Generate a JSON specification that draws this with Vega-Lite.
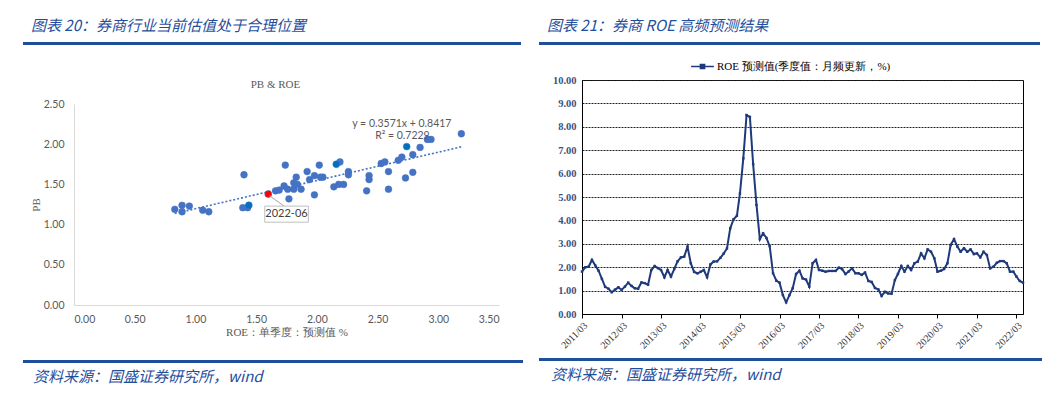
{
  "$schema": "https://vega.github.io/schema/vega-lite/v6.json",
  "background": "white",
  "padding": {"left": 20, "top": 18, "right": 5, "bottom": 5},
  "config": {
    "view": {"stroke": null},
    "font": "Noto Sans CJK SC"
  },
  "resolve": {"scale": {"color": "independent", "size": "independent"}, "legend": {"color": "independent", "size": "independent"}},
  "datasets": {
    "scatter": [
      {"roe": 0.83, "pb": 1.19, "group": "normal"},
      {"roe": 0.89, "pb": 1.24, "group": "normal"},
      {"roe": 0.89, "pb": 1.16, "group": "normal"},
      {"roe": 0.95, "pb": 1.23, "group": "normal"},
      {"roe": 1.06, "pb": 1.18, "group": "normal"},
      {"roe": 1.11, "pb": 1.16, "group": "normal"},
      {"roe": 1.39, "pb": 1.21, "group": "normal"},
      {"roe": 1.43, "pb": 1.21, "group": "normal"},
      {"roe": 1.44, "pb": 1.24, "group": "accent"},
      {"roe": 1.40, "pb": 1.62, "group": "normal"},
      {"roe": 1.66, "pb": 1.42, "group": "normal"},
      {"roe": 1.69, "pb": 1.43, "group": "normal"},
      {"roe": 1.73, "pb": 1.48, "group": "normal"},
      {"roe": 1.76, "pb": 1.44, "group": "normal"},
      {"roe": 1.77, "pb": 1.32, "group": "normal"},
      {"roe": 1.74, "pb": 1.74, "group": "normal"},
      {"roe": 1.81, "pb": 1.44, "group": "normal"},
      {"roe": 1.84, "pb": 1.50, "group": "normal"},
      {"roe": 1.83, "pb": 1.59, "group": "normal"},
      {"roe": 1.81, "pb": 1.52, "group": "normal"},
      {"roe": 1.87, "pb": 1.44, "group": "normal"},
      {"roe": 1.92, "pb": 1.66, "group": "normal"},
      {"roe": 1.94, "pb": 1.56, "group": "normal"},
      {"roe": 1.98, "pb": 1.37, "group": "normal"},
      {"roe": 1.98, "pb": 1.61, "group": "normal"},
      {"roe": 2.02, "pb": 1.74, "group": "normal"},
      {"roe": 2.05, "pb": 1.59, "group": "normal"},
      {"roe": 2.03, "pb": 1.59, "group": "normal"},
      {"roe": 2.16, "pb": 1.75, "group": "accent"},
      {"roe": 2.19, "pb": 1.78, "group": "normal"},
      {"roe": 2.14, "pb": 1.47, "group": "normal"},
      {"roe": 2.18, "pb": 1.50, "group": "normal"},
      {"roe": 2.22, "pb": 1.50, "group": "normal"},
      {"roe": 2.26, "pb": 1.66, "group": "normal"},
      {"roe": 2.26, "pb": 1.62, "group": "normal"},
      {"roe": 2.41, "pb": 1.42, "group": "normal"},
      {"roe": 2.43, "pb": 1.61, "group": "normal"},
      {"roe": 2.43, "pb": 1.56, "group": "normal"},
      {"roe": 2.53, "pb": 1.76, "group": "normal"},
      {"roe": 2.56, "pb": 1.78, "group": "normal"},
      {"roe": 2.59, "pb": 1.66, "group": "normal"},
      {"roe": 2.59, "pb": 1.44, "group": "normal"},
      {"roe": 2.67, "pb": 1.80, "group": "normal"},
      {"roe": 2.70, "pb": 1.84, "group": "normal"},
      {"roe": 2.74, "pb": 1.97, "group": "accent"},
      {"roe": 2.73, "pb": 1.58, "group": "normal"},
      {"roe": 2.79, "pb": 1.65, "group": "normal"},
      {"roe": 2.79, "pb": 1.87, "group": "normal"},
      {"roe": 2.85, "pb": 1.96, "group": "normal"},
      {"roe": 2.91, "pb": 2.06, "group": "normal"},
      {"roe": 2.94, "pb": 2.06, "group": "normal"},
      {"roe": 3.19, "pb": 2.13, "group": "normal"},
      {"roe": 1.60, "pb": 1.38, "group": "latest"}
    ],
    "monthly": [
      {"date": "2011-03", "value": 1.81}, {"date": "2011-04", "value": 2.00}, {"date": "2011-05", "value": 2.02},
      {"date": "2011-06", "value": 2.31}, {"date": "2011-07", "value": 2.08}, {"date": "2011-08", "value": 1.85},
      {"date": "2011-09", "value": 1.50}, {"date": "2011-10", "value": 1.16}, {"date": "2011-11", "value": 1.08},
      {"date": "2011-12", "value": 0.93}, {"date": "2012-01", "value": 1.04}, {"date": "2012-02", "value": 1.14},
      {"date": "2012-03", "value": 1.03}, {"date": "2012-04", "value": 1.17}, {"date": "2012-05", "value": 1.34},
      {"date": "2012-06", "value": 1.20}, {"date": "2012-07", "value": 1.10}, {"date": "2012-08", "value": 1.08},
      {"date": "2012-09", "value": 1.35}, {"date": "2012-10", "value": 1.32}, {"date": "2012-11", "value": 1.25},
      {"date": "2012-12", "value": 1.88}, {"date": "2013-01", "value": 2.05}, {"date": "2013-02", "value": 1.96},
      {"date": "2013-03", "value": 1.88}, {"date": "2013-04", "value": 1.57}, {"date": "2013-05", "value": 1.88},
      {"date": "2013-06", "value": 1.60}, {"date": "2013-07", "value": 1.92}, {"date": "2013-08", "value": 2.25},
      {"date": "2013-09", "value": 2.42}, {"date": "2013-10", "value": 2.45}, {"date": "2013-11", "value": 2.88},
      {"date": "2013-12", "value": 2.17}, {"date": "2014-01", "value": 1.80}, {"date": "2014-02", "value": 1.74},
      {"date": "2014-03", "value": 1.80}, {"date": "2014-04", "value": 1.88}, {"date": "2014-05", "value": 1.57},
      {"date": "2014-06", "value": 2.12}, {"date": "2014-07", "value": 2.24}, {"date": "2014-08", "value": 2.25},
      {"date": "2014-09", "value": 2.40}, {"date": "2014-10", "value": 2.58}, {"date": "2014-11", "value": 2.80},
      {"date": "2014-12", "value": 3.66}, {"date": "2015-01", "value": 4.05}, {"date": "2015-02", "value": 4.20},
      {"date": "2015-03", "value": 5.15}, {"date": "2015-04", "value": 6.65}, {"date": "2015-05", "value": 8.50},
      {"date": "2015-06", "value": 8.42}, {"date": "2015-07", "value": 6.40}, {"date": "2015-08", "value": 4.66},
      {"date": "2015-09", "value": 3.20}, {"date": "2015-10", "value": 3.45}, {"date": "2015-11", "value": 3.25},
      {"date": "2015-12", "value": 2.90}, {"date": "2016-01", "value": 1.74}, {"date": "2016-02", "value": 1.42},
      {"date": "2016-03", "value": 1.34}, {"date": "2016-04", "value": 0.81}, {"date": "2016-05", "value": 0.50},
      {"date": "2016-06", "value": 0.81}, {"date": "2016-07", "value": 1.10}, {"date": "2016-08", "value": 1.71},
      {"date": "2016-09", "value": 1.85}, {"date": "2016-10", "value": 1.52}, {"date": "2016-11", "value": 1.47},
      {"date": "2016-12", "value": 1.17}, {"date": "2017-01", "value": 2.17}, {"date": "2017-02", "value": 2.31},
      {"date": "2017-03", "value": 1.88}, {"date": "2017-04", "value": 1.85}, {"date": "2017-05", "value": 1.81},
      {"date": "2017-06", "value": 1.84}, {"date": "2017-07", "value": 1.84}, {"date": "2017-08", "value": 1.84},
      {"date": "2017-09", "value": 1.98}, {"date": "2017-10", "value": 1.92}, {"date": "2017-11", "value": 1.71},
      {"date": "2017-12", "value": 1.82}, {"date": "2018-01", "value": 1.95}, {"date": "2018-02", "value": 1.74},
      {"date": "2018-03", "value": 1.74}, {"date": "2018-04", "value": 1.67}, {"date": "2018-05", "value": 1.77},
      {"date": "2018-06", "value": 1.41}, {"date": "2018-07", "value": 1.37}, {"date": "2018-08", "value": 1.11},
      {"date": "2018-09", "value": 1.05}, {"date": "2018-10", "value": 0.77}, {"date": "2018-11", "value": 0.95},
      {"date": "2018-12", "value": 0.88}, {"date": "2019-01", "value": 0.87}, {"date": "2019-02", "value": 1.45},
      {"date": "2019-03", "value": 1.71}, {"date": "2019-04", "value": 2.05}, {"date": "2019-05", "value": 1.81},
      {"date": "2019-06", "value": 2.05}, {"date": "2019-07", "value": 1.88}, {"date": "2019-08", "value": 2.17},
      {"date": "2019-09", "value": 2.24}, {"date": "2019-10", "value": 2.59}, {"date": "2019-11", "value": 2.38},
      {"date": "2019-12", "value": 2.76}, {"date": "2020-01", "value": 2.66}, {"date": "2020-02", "value": 2.38},
      {"date": "2020-03", "value": 1.81}, {"date": "2020-04", "value": 1.85}, {"date": "2020-05", "value": 1.92},
      {"date": "2020-06", "value": 2.17}, {"date": "2020-07", "value": 2.95}, {"date": "2020-08", "value": 3.20},
      {"date": "2020-09", "value": 2.88}, {"date": "2020-10", "value": 2.66}, {"date": "2020-11", "value": 2.81},
      {"date": "2020-12", "value": 2.66}, {"date": "2021-01", "value": 2.76}, {"date": "2021-02", "value": 2.56},
      {"date": "2021-03", "value": 2.59}, {"date": "2021-04", "value": 2.42}, {"date": "2021-05", "value": 2.66},
      {"date": "2021-06", "value": 2.52}, {"date": "2021-07", "value": 1.95}, {"date": "2021-08", "value": 2.02},
      {"date": "2021-09", "value": 2.19}, {"date": "2021-10", "value": 2.26}, {"date": "2021-11", "value": 2.26},
      {"date": "2021-12", "value": 2.17}, {"date": "2022-01", "value": 1.81}, {"date": "2022-02", "value": 1.81},
      {"date": "2022-03", "value": 1.60}, {"date": "2022-04", "value": 1.41}, {"date": "2022-05", "value": 1.34}
    ]
  },
  "spacing": 13,
  "hconcat": [
    {
      "spacing": 20,
      "vconcat": [
        {
          "spacing": 32,
          "vconcat": [
            {
              "width": 498,
              "height": 3,
              "view": {"fill": "#1F4E9C", "stroke": null},
              "data": {"values": [{}]},
              "mark": {"type": "point", "opacity": 0},
              "encoding": {},
              "title": {"text": "图表 20：券商行业当前估值处于合理位置", "anchor": "start", "frame": "group", "dx": 8, "offset": 7, "fontSize": 15, "fontStyle": "italic", "fontWeight": "normal", "color": "#1F4E9C", "font": "Noto Sans CJK SC"}
            },
            {
              "spacing": 3,
              "hconcat": [
                {
                  "width": 1,
                  "height": 1,
                  "data": {"values": [{}]},
                  "mark": {"type": "point", "opacity": 0},
                  "encoding": {}
                },
                {
                  "width": 425,
                  "height": 201,
                  "title": {"text": "PB & ROE", "frame": "group", "anchor": "middle", "dx": -11, "offset": 9, "font": "Liberation Serif", "fontSize": 11, "fontWeight": "normal", "color": "#595959"},
                  "data": {"name": "scatter"},
                  "layer": [
                    {
                      "transform": [{"regression": "pb", "on": "roe"}],
                      "mark": {"type": "line", "color": "#4472C4", "strokeDash": [2, 2], "strokeWidth": 1.6},
                      "encoding": {
                        "x": {"field": "roe", "type": "quantitative", "scale": {"domain": [0, 3.5], "nice": false, "zero": false},
                          "axis": {"title": "ROE：单季度：预测值 %", "values": [0, 0.5, 1, 1.5, 2, 2.5, 3, 3.5], "format": ".2f", "grid": false, "ticks": false, "domainColor": "#D9D9D9", "labelColor": "#595959", "labelFont": "Lato", "labelFontSize": 10.5, "labelPadding": 9, "titleFont": "Liberation Serif", "titleFontSize": 11, "titleFontWeight": "normal", "titleColor": "#595959", "titlePadding": 2}},
                        "y": {"field": "pb", "type": "quantitative", "scale": {"domain": [0, 2.5], "nice": false, "zero": false},
                          "axis": {"title": "PB", "values": [0, 0.5, 1, 1.5, 2, 2.5], "format": ".2f", "grid": false, "ticks": false, "domainColor": "#D9D9D9", "labelColor": "#595959", "labelFont": "Lato", "labelFontSize": 10.5, "labelPadding": 10, "titleFont": "Liberation Serif", "titleFontSize": 11, "titleFontWeight": "normal", "titleColor": "#595959", "titlePadding": 2}}
                      }
                    },
                    {
                      "mark": {"type": "circle", "opacity": 1, "stroke": "#4472C4", "strokeWidth": 0.5},
                      "encoding": {
                        "x": {"field": "roe", "type": "quantitative"},
                        "y": {"field": "pb", "type": "quantitative"},
                        "color": {"field": "group", "type": "nominal", "scale": {"domain": ["normal", "accent", "latest"], "range": ["#4472C4", "#0070C0", "#FF0000"]}, "legend": null},
                        "size": {"field": "group", "type": "nominal", "scale": {"domain": ["normal", "accent", "latest"], "range": [46, 50, 22]}, "legend": null},
                        "order": {"field": "group", "sort": "descending"}
                      }
                    },
                    {
                      "data": {"values": [{}]},
                      "mark": {"type": "rule", "color": "#A6A6A6", "strokeWidth": 1},
                      "encoding": {"x": {"datum": 1.61, "type": "quantitative"}, "y": {"datum": 1.36, "type": "quantitative"}, "x2": {"datum": 1.73}, "y2": {"datum": 1.23}}
                    },
                    {
                      "data": {"values": [{}]},
                      "mark": {"type": "rect", "fill": "white", "stroke": "#BFBFBF", "strokeWidth": 1},
                      "encoding": {"x": {"datum": 1.571, "type": "quantitative"}, "x2": {"datum": 1.93}, "y": {"datum": 1.23, "type": "quantitative"}, "y2": {"datum": 1.03}}
                    },
                    {
                      "data": {"values": [{}]},
                      "mark": {"type": "text", "text": "2022-06", "font": "Lato", "fontSize": 11, "color": "#404040"},
                      "encoding": {"x": {"datum": 1.75, "type": "quantitative"}, "y": {"datum": 1.13, "type": "quantitative"}}
                    },
                    {
                      "data": {"values": [{}]},
                      "mark": {"type": "text", "text": "y = 0.3571x + 0.8417", "font": "Lato", "fontSize": 10.5, "color": "#595959"},
                      "encoding": {"x": {"datum": 2.70, "type": "quantitative"}, "y": {"datum": 2.25, "type": "quantitative"}}
                    },
                    {
                      "data": {"values": [{}]},
                      "mark": {"type": "text", "text": "R² = 0.7229", "font": "Lato", "fontSize": 10.5, "color": "#595959"},
                      "encoding": {"x": {"datum": 2.705, "type": "quantitative"}, "y": {"datum": 2.10, "type": "quantitative"}}
                    }
                  ]
                }
              ]
            }
          ]
        },
        {
          "width": 500,
          "height": 3,
          "view": {"fill": "#1F4E9C", "stroke": null},
          "data": {"values": [{}]},
          "mark": {"type": "point", "opacity": 0},
          "encoding": {},
          "title": {"text": "资料来源：国盛证券研究所，wind", "orient": "bottom", "anchor": "start", "frame": "group", "dx": 10, "offset": 6, "fontSize": 15, "fontStyle": "italic", "fontWeight": "normal", "color": "#1F4E9C", "font": "Noto Sans CJK SC"}
        }
      ]
    },
    {
      "spacing": 5,
      "resolve": {"scale": {"color": "independent"}, "legend": {"color": "independent"}},
      "vconcat": [
        {
          "spacing": 6,
          "resolve": {"scale": {"color": "independent"}, "legend": {"color": "independent"}},
          "vconcat": [
            {
              "width": 501,
              "height": 3,
              "view": {"fill": "#1F4E9C", "stroke": null},
              "data": {"values": [{}]},
              "mark": {"type": "point", "opacity": 0},
              "encoding": {},
              "title": {"text": "图表 21：券商 ROE 高频预测结果", "anchor": "start", "frame": "group", "dx": 8, "offset": 7, "fontSize": 15, "fontStyle": "italic", "fontWeight": "normal", "color": "#1F4E9C", "font": "Noto Sans CJK SC"}
            },
            {
              "spacing": 8,
              "resolve": {"scale": {"color": "independent"}, "legend": {"color": "independent"}},
              "hconcat": [
                {
                  "width": 1,
                  "height": 1,
                  "data": {"values": [{}]},
                  "mark": {"type": "point", "opacity": 0},
                  "encoding": {}
                },
                {
                  "width": 441,
                  "height": 234,
                  "view": {"stroke": "#000000", "strokeWidth": 1},
                  "data": {"name": "monthly"},
                  "mark": {"type": "line", "strokeWidth": 2, "point": {"filled": true, "shape": "square", "size": 6}},
                  "encoding": {
                    "x": {"field": "date", "type": "temporal", "scale": {"type": "utc", "nice": false},
                      "axis": {"title": null, "format": "%Y/%m",
                        "values": [
                          {"year": 2011, "month": 3, "date": 1, "utc": true}, {"year": 2012, "month": 3, "date": 1, "utc": true},
                          {"year": 2013, "month": 3, "date": 1, "utc": true}, {"year": 2014, "month": 3, "date": 1, "utc": true},
                          {"year": 2015, "month": 3, "date": 1, "utc": true}, {"year": 2016, "month": 3, "date": 1, "utc": true},
                          {"year": 2017, "month": 3, "date": 1, "utc": true}, {"year": 2018, "month": 3, "date": 1, "utc": true},
                          {"year": 2019, "month": 3, "date": 1, "utc": true}, {"year": 2020, "month": 3, "date": 1, "utc": true},
                          {"year": 2021, "month": 3, "date": 1, "utc": true}, {"year": 2022, "month": 3, "date": 1, "utc": true}
                        ],
                        "grid": false, "tickSize": 4, "tickColor": "#000000", "domainColor": "#000000", "labelAngle": -45, "labelAlign": "right", "labelBaseline": "top", "labelFont": "Liberation Serif", "labelFontSize": 10, "labelColor": "#333333", "labelPadding": 2, "labelOverlap": false, "labelFlush": false}},
                    "y": {"field": "value", "type": "quantitative", "scale": {"domain": [0, 10], "nice": false},
                      "axis": {"title": null, "values": [0, 1, 2, 3, 4, 5, 6, 7, 8, 9, 10], "format": ".2f", "grid": true, "gridColor": "#222222", "gridDash": [2, 1], "gridWidth": 1, "ticks": false, "domainColor": "#000000", "labelFont": "Liberation Serif", "labelFontSize": 10.5, "labelFontWeight": "bold", "labelColor": "#3B5380", "labelPadding": 6}},
                    "color": {"datum": "ROE 预测值(季度值：月频更新，%)", "type": "nominal", "scale": {"domain": ["ROE 预测值(季度值：月频更新，%)"], "range": ["#1F3A7A"]},
                      "legend": {"title": null, "orient": "none", "legendX": 108, "legendY": -26, "padding": 0, "labelLimit": 0, "symbolType": "M-1,0H1M-0.18,-0.18H0.18V0.18H-0.18Z", "symbolSize": 520, "symbolStrokeWidth": 1.6, "symbolFillColor": "#1F3A7A", "symbolStrokeColor": "#1F3A7A", "labelFont": "Liberation Serif", "labelFontSize": 11, "labelColor": "#000000", "labelOffset": 2}}
                  }
                }
              ]
            }
          ]
        },
        {
          "width": 503,
          "height": 3,
          "view": {"fill": "#1F4E9C", "stroke": null},
          "data": {"values": [{}]},
          "mark": {"type": "point", "opacity": 0},
          "encoding": {},
          "title": {"text": "资料来源：国盛证券研究所，wind", "orient": "bottom", "anchor": "start", "frame": "group", "dx": 12, "offset": 6, "fontSize": 15, "fontStyle": "italic", "fontWeight": "normal", "color": "#1F4E9C", "font": "Noto Sans CJK SC"}
        }
      ]
    }
  ]
}
